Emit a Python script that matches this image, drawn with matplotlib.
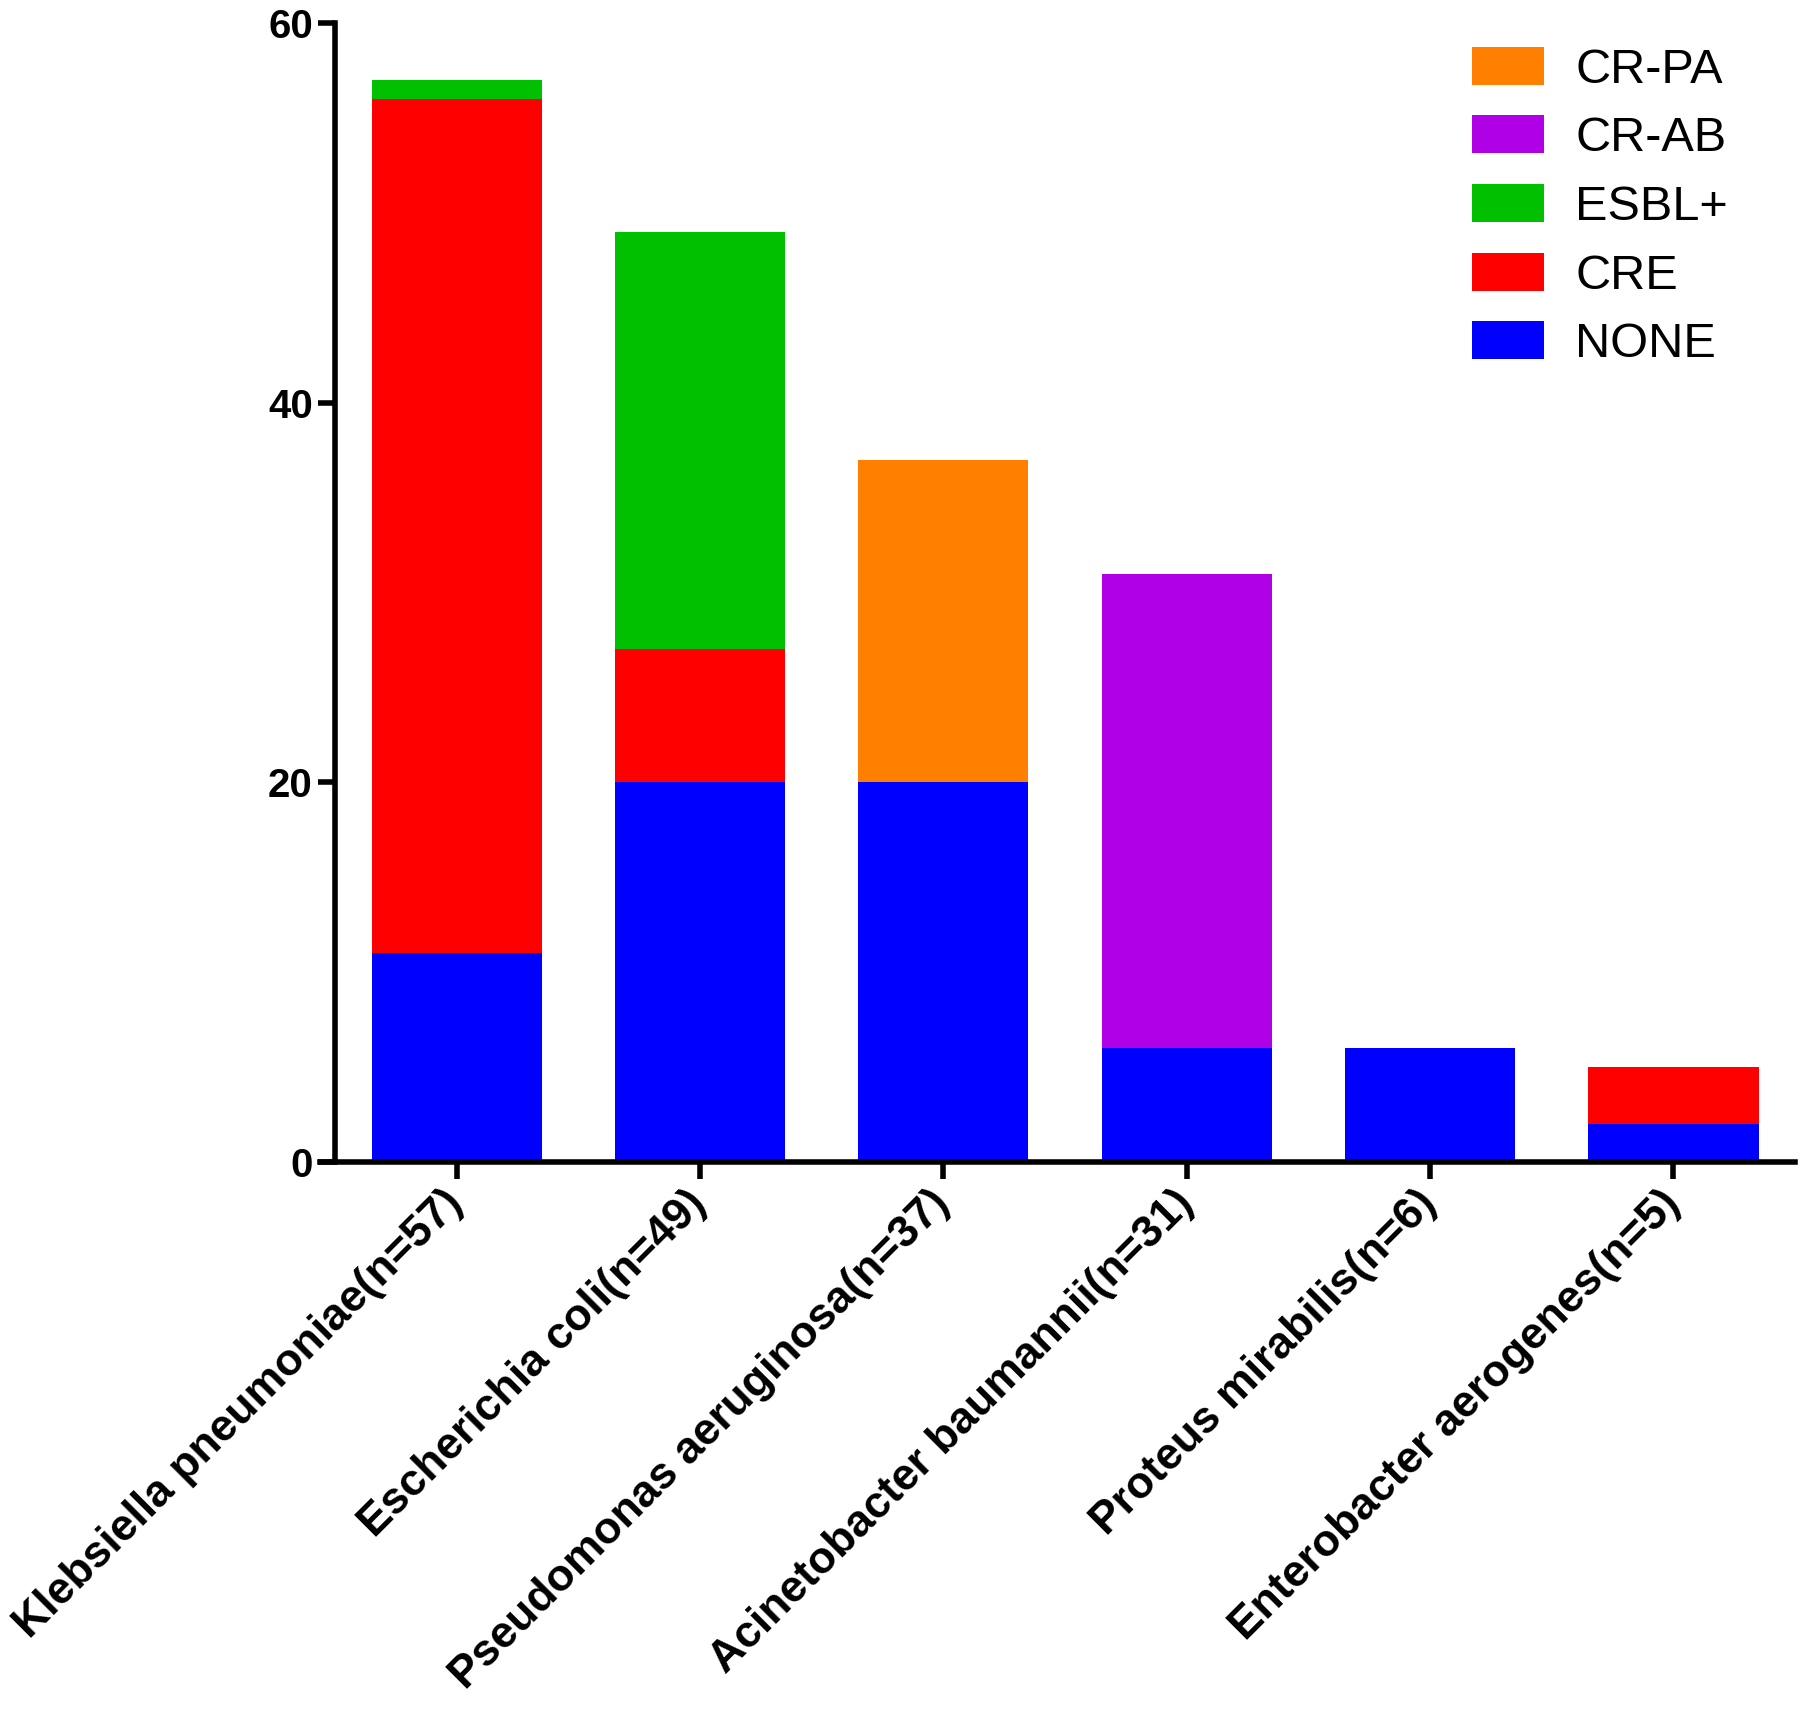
import matplotlib.pyplot as plt
import numpy as np

plt.rcParams['font.family'] = ['Liberation Sans', 'DejaVu Sans']

species = ['Klebsiella pneumoniae(n=57)', 'Escherichia coli(n=49)',
           'Pseudomonas aeruginosa(n=37)', 'Acinetobacter baumannii(n=31)',
           'Proteus mirabilis(n=6)', 'Enterobacter aerogenes(n=5)']
none = [11, 20, 20, 6, 6, 2]
cre = [45, 7, 0, 0, 0, 3]
esbl = [1, 22, 0, 0, 0, 0]
crab = [0, 0, 0, 25, 0, 0]
crpa = [0, 0, 17, 0, 0, 0]

groups = [('NONE', none, '#0000FF'), ('CRE', cre, '#FF0000'),
          ('ESBL+', esbl, '#00C000'), ('CR-AB', crab, '#B000E6'),
          ('CR-PA', crpa, '#FF8000')]

fig = plt.figure(figsize=(18, 17.09), dpi=100)
ax = fig.add_axes([335/1800, 1-1162/1709, (1795-335)/1800, (1162-23)/1709])

x = np.arange(len(species))
bottom = np.zeros(len(species))
handles = []
for name, vals, col in groups:
    b = ax.bar(x, vals, 0.70, bottom=bottom, color=col, label=name, linewidth=0)
    handles.append(b)
    bottom += np.array(vals)

ax.set_xlim(-0.5, 5.5)
ax.set_ylim(0, 60)
ax.set_yticks([0, 20, 40, 60])
ax.set_xticks(x)
ax.set_xticklabels(species, rotation=45, ha='right', va='center',
                   rotation_mode='anchor', fontsize=32, fontweight='bold')
for lab in ax.get_yticklabels():
    lab.set_fontsize(29)
    lab.set_fontweight('bold')

for s in ['top', 'right']:
    ax.spines[s].set_visible(False)
for s in ['left', 'bottom']:
    ax.spines[s].set_linewidth(4)
ax.spines['bottom'].set_bounds(-0.56, 5.5)
ax.tick_params(axis='both', length=12, width=4, direction='out')
ax.tick_params(axis='x', pad=13)
ax.tick_params(axis='y', pad=4)

leg = fig.legend(handles[::-1], [g[0] for g in groups][::-1],
                 loc='center left', bbox_to_anchor=(1472/1800, 1-207/1709),
                 frameon=False, fontsize=35, handlelength=1.48, handleheight=0.82,
                 handletextpad=0.64, labelspacing=0.47, borderpad=0, borderaxespad=0)

plt.savefig('out.png', dpi=100)
